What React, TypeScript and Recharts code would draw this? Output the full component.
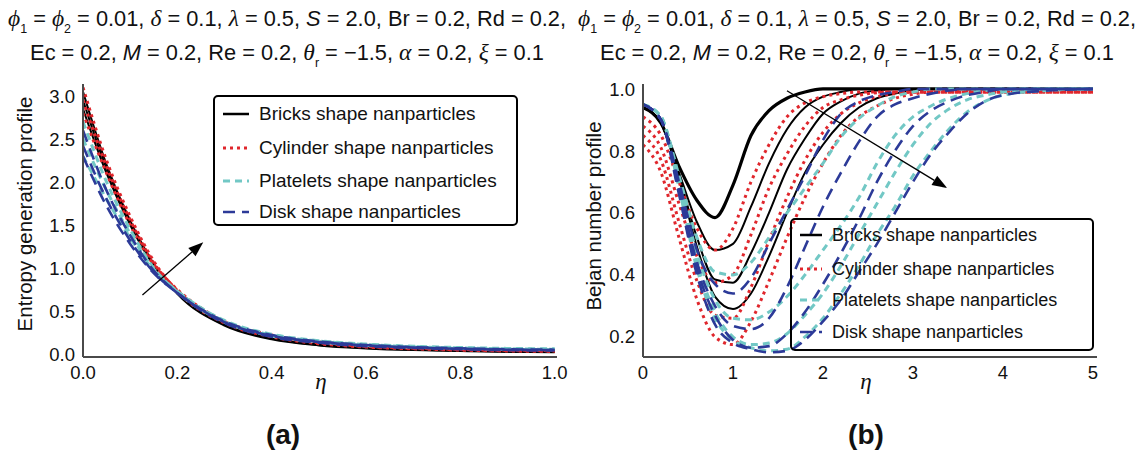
import React from 'react';
import { LineChart, Line, XAxis, YAxis, ReferenceLine } from 'recharts';

// ---- panel (a): entropy generation profile ----
const etaA = [0, 0.05, 0.1, 0.15, 0.2, 0.3, 0.4, 0.5, 0.6, 0.7, 0.8, 0.9, 1.0];

const bricksA = [
  [3.05, 2.2, 1.55, 1.05, 0.7, 0.33, 0.17, 0.1, 0.065, 0.045, 0.035, 0.025, 0.02],
  [2.95, 2.15, 1.52, 1.04, 0.71, 0.34, 0.18, 0.105, 0.07, 0.05, 0.038, 0.028, 0.022],
  [2.85, 2.1, 1.5, 1.03, 0.72, 0.35, 0.185, 0.11, 0.075, 0.052, 0.04, 0.03, 0.025],
];
const cylinderA = [
  [3.1, 2.25, 1.6, 1.08, 0.73, 0.36, 0.2, 0.12, 0.08, 0.06, 0.045, 0.035, 0.03],
  [2.95, 2.18, 1.56, 1.06, 0.74, 0.37, 0.21, 0.13, 0.085, 0.065, 0.05, 0.04, 0.035],
  [2.8, 2.1, 1.5, 1.04, 0.75, 0.38, 0.22, 0.14, 0.09, 0.07, 0.055, 0.045, 0.04],
];
const plateletsA = [
  [2.7, 2.0, 1.45, 1.0, 0.72, 0.37, 0.21, 0.14, 0.1, 0.08, 0.065, 0.055, 0.05],
  [2.5, 1.9, 1.4, 0.99, 0.73, 0.38, 0.22, 0.15, 0.11, 0.085, 0.07, 0.06, 0.055],
  [2.3, 1.8, 1.35, 0.97, 0.73, 0.39, 0.23, 0.155, 0.115, 0.09, 0.075, 0.065, 0.06],
];
const diskA = [
  [2.6, 1.9, 1.38, 0.97, 0.71, 0.36, 0.2, 0.13, 0.09, 0.07, 0.055, 0.045, 0.04],
  [2.42, 1.8, 1.32, 0.95, 0.71, 0.37, 0.21, 0.14, 0.1, 0.075, 0.06, 0.05, 0.045],
  [2.3, 1.72, 1.28, 0.94, 0.71, 0.38, 0.22, 0.145, 0.105, 0.08, 0.065, 0.055, 0.05],
];
const xTicksA = [0, 0.2, 0.4, 0.6, 0.8, 1.0];
const yTicksA = [0, 0.5, 1.0, 1.5, 2.0, 2.5, 3.0];

// ---- panel (b): Bejan number profile ----
const etaB = [0, 0.2, 0.4, 0.6, 0.8, 1.0, 1.2, 1.4, 1.6, 1.8, 2.0, 2.2, 2.4, 2.6, 2.8, 3.0, 3.2, 3.4, 3.6, 3.8, 4.0, 4.5, 5.0];

const bricksB = [
  [0.94, 0.89, 0.75, 0.64, 0.585, 0.69, 0.85, 0.93, 0.97, 0.99, 1, 1, 1, 1, 1, 1, 1, 1, 1, 1, 1, 1, 1],
  [0.94, 0.89, 0.73, 0.57, 0.48, 0.5, 0.62, 0.76, 0.87, 0.94, 0.975, 0.99, 1, 1, 1, 1, 1, 1, 1, 1, 1, 1, 1],
  [0.94, 0.89, 0.72, 0.52, 0.385, 0.375, 0.47, 0.6, 0.74, 0.84, 0.92, 0.96, 0.985, 0.995, 1, 1, 1, 1, 1, 1, 1, 1, 1],
  [0.94, 0.89, 0.71, 0.49, 0.33, 0.29, 0.34, 0.46, 0.6, 0.73, 0.82, 0.89, 0.94, 0.97, 0.985, 0.995, 1, 1, 1, 1, 1, 1, 1],
];
const cylinderB = [
  [0.91, 0.85, 0.7, 0.55, 0.48, 0.55, 0.7, 0.82, 0.91, 0.955, 0.975, 0.985, 0.99, 0.99, 0.99, 0.99, 0.99, 0.99, 0.99, 0.99, 0.99, 0.99, 0.99],
  [0.88, 0.81, 0.63, 0.46, 0.375, 0.4, 0.53, 0.68, 0.79, 0.88, 0.94, 0.965, 0.98, 0.988, 0.99, 0.99, 0.99, 0.99, 0.99, 0.99, 0.99, 0.99, 0.99],
  [0.85, 0.77, 0.57, 0.38, 0.27, 0.26, 0.36, 0.51, 0.65, 0.77, 0.86, 0.92, 0.955, 0.975, 0.985, 0.99, 0.99, 0.99, 0.99, 0.99, 0.99, 0.99, 0.99],
  [0.82, 0.73, 0.52, 0.32, 0.2, 0.175, 0.25, 0.38, 0.52, 0.65, 0.76, 0.85, 0.91, 0.945, 0.97, 0.983, 0.99, 0.99, 0.99, 0.99, 0.99, 0.99, 0.99],
];
const plateletsB = [
  [0.95, 0.91, 0.72, 0.52, 0.41, 0.4, 0.44, 0.52, 0.6, 0.68, 0.76, 0.845, 0.905, 0.945, 0.975, 0.99, 1, 1, 1, 1, 1, 1, 1],
  [0.95, 0.91, 0.7, 0.47, 0.32, 0.26, 0.255, 0.28, 0.33, 0.4, 0.48, 0.56, 0.65, 0.76, 0.85, 0.91, 0.945, 0.97, 0.985, 0.995, 1, 1, 1],
  [0.95, 0.91, 0.69, 0.44, 0.28, 0.2, 0.175, 0.18, 0.21, 0.27, 0.34, 0.43, 0.53, 0.63, 0.73, 0.82, 0.89, 0.935, 0.965, 0.98, 0.99, 1, 1],
  [0.95, 0.91, 0.68, 0.42, 0.26, 0.19, 0.165, 0.155, 0.16, 0.2, 0.26, 0.34, 0.43, 0.53, 0.62, 0.72, 0.8, 0.87, 0.925, 0.96, 0.98, 0.995, 1],
];
const diskB = [
  [0.95, 0.9, 0.7, 0.48, 0.37, 0.34, 0.39, 0.5, 0.61, 0.72, 0.835, 0.92, 0.96, 0.98, 0.99, 1, 1, 1, 1, 1, 1, 1, 1],
  [0.95, 0.9, 0.68, 0.44, 0.3, 0.235, 0.225, 0.26, 0.36, 0.49, 0.62, 0.73, 0.83, 0.91, 0.95, 0.97, 0.985, 0.995, 1, 1, 1, 1, 1],
  [0.95, 0.9, 0.67, 0.42, 0.27, 0.19, 0.165, 0.17, 0.21, 0.28, 0.37, 0.47, 0.58, 0.7, 0.8, 0.88, 0.93, 0.96, 0.98, 0.99, 1, 1, 1],
  [0.95, 0.9, 0.66, 0.4, 0.24, 0.18, 0.16, 0.15, 0.155, 0.19, 0.25, 0.32, 0.41, 0.5, 0.6, 0.7, 0.79, 0.86, 0.92, 0.96, 0.98, 0.995, 1],
];
const xTicksB = [0, 1, 2, 3, 4, 5];
const yTicksB = [0.2, 0.4, 0.6, 0.8, 1.0];

const legendNames = [
  'Bricks shape nanparticles',
  'Cylinder shape nanparticles',
  'Platelets shape nanparticles',
  'Disk shape nanparticles',
];

// ---- styles ----
const FONT = '"Liberation Sans", Arial, Helvetica, sans-serif';
const AX = '#4a4a4a';
const styles = [
  { key: 'b', stroke: '#000000', dash: undefined as string | undefined, width: 2 },
  { key: 'c', stroke: '#e0262c', dash: '3 4', width: 3 },
  { key: 'p', stroke: '#72c8c5', dash: '7 5', width: 3 },
  { key: 'd', stroke: '#2c3a98', dash: '12 7', width: 2.6 },
];

const buildRows = (eta: number[], groups: number[][][]) =>
  eta.map((e, i) => {
    const row: Record<string, number> = { eta: e };
    groups.forEach((g, gi) => g.forEach((s, si) => { row[`${styles[gi].key}${si}`] = s[i]; }));
    return row;
  });

const rowsA = buildRows(etaA, [bricksA, cylinderA, plateletsA, diskA]);
const rowsB = buildRows(etaB, [bricksB, cylinderB, plateletsB, diskB]);

const minorTicks = (lo: number, hi: number, step: number) => {
  const out: number[] = [];
  for (let v = lo; v <= hi + 1e-9; v += step) out.push(Math.round(v * 1000) / 1000);
  return out;
};

const Arrow = (p: any) => {
  const { x1, y1, x2, y2 } = p;
  const a = Math.atan2(y2 - y1, x2 - x1);
  const L = 15, W = 5.5;
  const bx = x2 - L * Math.cos(a), by = y2 - L * Math.sin(a);
  const pts = `${x2},${y2} ${bx + W * Math.sin(a)},${by - W * Math.cos(a)} ${bx - W * Math.sin(a)},${by + W * Math.cos(a)}`;
  return (
    <g>
      <line x1={x1} y1={y1} x2={bx} y2={by} stroke="#000" strokeWidth={1.3} />
      <polygon points={pts} fill="#000" />
    </g>
  );
};

const tickStyle = { fontSize: 18.5, fill: '#111', fontFamily: FONT };

const frameAxes = (
  xDom: number[], yDom: number[], xMaj: number[], xMin: number[], yMaj: number[], yMin: number[],
) => [
  <XAxis key="xt" xAxisId="top" type="number" orientation="top" mirror height={0} domain={xDom} allowDataOverflow
    ticks={xMaj} interval={0} tick={false} tickSize={7} stroke={AX} axisLine={{ stroke: AX, strokeWidth: 2 }} />,
  <XAxis key="xtm" xAxisId="topMin" type="number" orientation="top" mirror height={0} domain={xDom} allowDataOverflow
    ticks={xMin} interval={0} tick={false} tickSize={3.5} stroke="#888" axisLine={false} />,
  <XAxis key="xb" xAxisId="bot" type="number" orientation="bottom" mirror height={0} domain={xDom} allowDataOverflow
    ticks={xMaj} interval={0} tick={false} tickSize={7} stroke={AX} axisLine={false} />,
  <XAxis key="xbm" xAxisId="botMin" type="number" orientation="bottom" mirror height={0} domain={xDom} allowDataOverflow
    ticks={xMin} interval={0} tick={false} tickSize={3.5} stroke="#888" axisLine={false} />,
  <YAxis key="yr" yAxisId="right" type="number" orientation="right" mirror width={0} domain={yDom} allowDataOverflow
    ticks={yMaj} interval={0} tick={false} tickSize={7} stroke={AX} axisLine={{ stroke: '#111', strokeWidth: 2 }} />,
  <YAxis key="yrm" yAxisId="rightMin" type="number" orientation="right" mirror width={0} domain={yDom} allowDataOverflow
    ticks={yMin} interval={0} tick={false} tickSize={3.5} stroke="#888" axisLine={false} />,
  <YAxis key="yl" yAxisId="left" type="number" orientation="left" mirror width={0} domain={yDom} allowDataOverflow
    ticks={yMaj} interval={0} tick={false} tickSize={7} stroke={AX} axisLine={false} />,
  <YAxis key="ylm" yAxisId="leftMin" type="number" orientation="left" mirror width={0} domain={yDom} allowDataOverflow
    ticks={yMin} interval={0} tick={false} tickSize={3.5} stroke="#888" axisLine={false} />,
];

const seriesLines = (groups: number[][][], thickFirst: boolean) =>
  groups.flatMap((g, gi) =>
    g.map((_, si) => (
      <Line
        key={`${styles[gi].key}${si}`}
        type="monotone"
        dataKey={`${styles[gi].key}${si}`}
        stroke={styles[gi].stroke}
        strokeWidth={thickFirst && gi === 0 && si === 0 ? 3.2 : styles[gi].width}
        strokeDasharray={styles[gi].dash}
        dot={false}
        activeDot={false}
        isAnimationActive={false}
      />
    )),
  );

const Sub = ({ children }: { children: React.ReactNode }) => (
  <span style={{ fontSize: 12.5, position: 'relative', top: 7 }}>{children}</span>
);
const G = ({ children }: { children: React.ReactNode }) => (
  <span style={{ fontFamily: '"Liberation Serif", "Times New Roman", serif', fontStyle: 'italic', fontSize: 23.5 }}>{children}</span>
);
const It = ({ children }: { children: React.ReactNode }) => <span style={{ fontStyle: 'italic' }}>{children}</span>;

const Title = ({ cx }: { cx: number }) => (
  <div style={{ position: 'absolute', left: cx - 300, top: 3, width: 600, textAlign: 'center', fontSize: 21.8, lineHeight: '30px', whiteSpace: 'nowrap' }}>
    <div>
      <G>ϕ</G><Sub>1</Sub> = <G>ϕ</G><Sub>2</Sub> = 0.01, <G>δ</G> = 0.1, <G>λ</G> = 0.5, <It>S</It> = 2.0, Br = 0.2, Rd = 0.2,
    </div>
    <div>
      Ec = 0.2, <It>M</It> = 0.2, Re = 0.2, <G>θ</G><Sub>r</Sub> = −1.5, <G>α</G> = 0.2, <G>ξ</G> = 0.1
    </div>
  </div>
);

const LegendBox = ({ left, top, width, height, rows, fontSize, opaque, textLeft }: any) => (
  <div style={{ position: 'absolute', left, top, width, height, border: '2.5px solid #000', borderRadius: 5, background: opaque ? '#fff' : 'transparent', boxSizing: 'border-box' }}>
    {legendNames.map((name, i) => (
      <div key={name} style={{ position: 'absolute', left: 0, top: rows[i] - 13, height: 26, display: 'flex', alignItems: 'center', whiteSpace: 'nowrap' }}>
        <svg width={textLeft - 4} height={26} style={{ marginLeft: 4 }}>
          <line x1={4} y1={13} x2={textLeft - 14} y2={13} stroke={styles[i].stroke} strokeWidth={i === 0 ? 2.5 : styles[i].width} strokeDasharray={styles[i].dash} />
        </svg>
        <span style={{ fontSize, color: '#111' }}>{name}</span>
      </div>
    ))}
  </div>
);

const YLabel = ({ cx, cy, text }: { cx: number; cy: number; text: string }) => (
  <div style={{ position: 'absolute', left: cx - 150, top: cy - 12, width: 300, height: 24, lineHeight: '24px', textAlign: 'center', fontSize: 20.5, transform: 'rotate(-90deg)' }}>
    {text}
  </div>
);

const Eta = ({ cx }: { cx: number }) => (
  <div style={{ position: 'absolute', left: cx - 20, top: 369, width: 40, textAlign: 'center', fontFamily: '"Liberation Serif", serif', fontStyle: 'italic', fontSize: 23 }}>η</div>
);
const PanelTag = ({ cx, text }: { cx: number; text: string }) => (
  <div style={{ position: 'absolute', left: cx - 40, top: 418, width: 80, textAlign: 'center', fontWeight: 'bold', fontSize: 28, lineHeight: '34px' }}>{text}</div>
);

export default function App() {
  const xDomA = [0, 1.005];
  const yDomA = [-0.035, 3.14];
  const xDomB = [0, 5.045];
  const yDomB = [0.135, 1.016];
  return (
    <div style={{ position: 'absolute', left: 0, top: 0, width: 1142, height: 450, background: '#fff', fontFamily: FONT, color: '#111', overflow: 'hidden' }}>
      <Title cx={287} />
      <Title cx={857} />

      <div style={{ position: 'absolute', left: 0, top: 0 }}>
        <LineChart width={600} height={420} data={rowsA} margin={{ top: 84, right: 43, bottom: 33, left: 23 }}>
          <XAxis dataKey="eta" type="number" domain={xDomA} allowDataOverflow ticks={xTicksA} interval={0} height={30}
            tickLine={false} tickSize={6} tickMargin={3} tick={tickStyle} tickFormatter={(v: number) => v.toFixed(1)}
            axisLine={{ stroke: AX, strokeWidth: 2 }} />
          <YAxis type="number" domain={yDomA} allowDataOverflow ticks={yTicksA} interval={0} width={60}
            tickLine={false} tickSize={5} tickMargin={3} tick={tickStyle} tickFormatter={(v: number) => v.toFixed(1)}
            axisLine={{ stroke: AX, strokeWidth: 2 }} />
          {frameAxes(xDomA, yDomA, xTicksA, minorTicks(0, 1, 0.05), yTicksA, minorTicks(0, 3.1, 0.1))}
          {seriesLines([bricksA, cylinderA, plateletsA, diskA], false)}
          <ReferenceLine segment={[{ x: 0.126, y: 0.686 }, { x: 0.255, y: 1.3 }]} shape={Arrow} />
        </LineChart>
      </div>

      <div style={{ position: 'absolute', left: 560, top: 0 }}>
        <LineChart width={580} height={420} data={rowsB} margin={{ top: 84, right: 43, bottom: 33, left: 23 }}>
          <XAxis dataKey="eta" type="number" domain={xDomB} allowDataOverflow ticks={xTicksB} interval={0} height={30}
            tickLine={false} tickSize={6} tickMargin={3} tick={tickStyle}
            axisLine={{ stroke: AX, strokeWidth: 2 }} />
          <YAxis type="number" domain={yDomB} allowDataOverflow ticks={yTicksB} interval={0} width={60}
            tickLine={false} tickSize={5} tickMargin={3} tick={tickStyle} tickFormatter={(v: number) => v.toFixed(1)}
            axisLine={{ stroke: AX, strokeWidth: 2 }} />
          {frameAxes(xDomB, yDomB, xTicksB, minorTicks(0, 5, 0.2), yTicksB, minorTicks(0.15, 1.0, 0.05))}
          {seriesLines([bricksB, cylinderB, plateletsB, diskB], true)}
          <ReferenceLine segment={[{ x: 1.6, y: 0.994 }, { x: 3.38, y: 0.68 }]} shape={Arrow} />
        </LineChart>
      </div>

      <LegendBox left={213} top={95} width={305} height={131} rows={[17, 51, 84, 115]} fontSize={19} opaque textLeft={44} />
      <LegendBox left={790} top={218} width={304} height={133} rows={[15, 49, 80, 112]} fontSize={18} opaque={false} textLeft={40} />

      <YLabel cx={25} cy={214} text="Entropy generation profile" />
      <YLabel cx={594} cy={216} text="Bejan number profile" />
      <Eta cx={321} />
      <Eta cx={866} />
      <PanelTag cx={283} text="(a)" />
      <PanelTag cx={866} text="(b)" />
    </div>
  );
}
